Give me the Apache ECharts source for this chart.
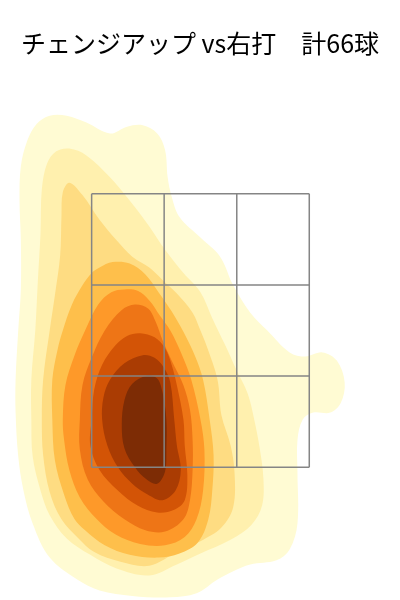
<!DOCTYPE html>
<html><head><meta charset="utf-8">
<script src="https://cdn.jsdelivr.net/npm/echarts@6/dist/echarts.min.js"></script>
<style>html,body{margin:0;padding:0;background:#fff}#c{width:400px;height:600px}</style>
</head><body><div id="c"></div>
<script>
// Title
const titleText = 'チェンジアップ vs右打\u3000計66球';

// Density contour bands (outer → inner), pitch location in feet [plate x, height]
const levelColors = ['#fffbd3','#fff0ae','#fedc82','#febf4b','#fe9929','#ee7516','#d35406','#aa3c03','#7d2c05'];

const level1 = [[-1.15,4.07],[-1.02,4.07],[-0.87,4.02],[-0.69,3.94],[-0.56,3.99],[-0.44,4.00],[-0.33,3.94],[-0.27,3.82],[-0.25,3.62],[-0.22,3.48],[-0.16,3.33],[0.00,3.18],[0.15,3.04],[0.25,2.83],[0.38,2.63],[0.51,2.50],[0.68,2.34],[0.80,2.31],[0.93,2.34],[1.04,2.28],[1.10,2.12],[1.07,1.97],[0.99,1.90],[0.86,1.90],[0.78,1.85],[0.74,1.70],[0.74,1.46],[0.74,1.09],[0.68,0.90],[0.58,0.82],[0.38,0.79],[0.25,0.74],[0.13,0.68],[-0.03,0.58],[-0.23,0.55],[-0.52,0.56],[-0.77,0.60],[-0.94,0.68],[-1.15,0.84],[-1.28,1.09],[-1.35,1.33],[-1.39,1.58],[-1.41,1.90],[-1.41,2.14],[-1.39,2.50],[-1.37,2.80],[-1.37,3.16],[-1.38,3.45],[-1.37,3.70],[-1.32,3.89],[-1.25,4.01]];
const level2 = [[-1.00,3.83],[-0.87,3.78],[-0.69,3.62],[-0.54,3.45],[-0.39,3.26],[-0.27,3.09],[-0.13,2.92],[0.00,2.78],[0.09,2.59],[0.19,2.39],[0.28,2.20],[0.36,2.04],[0.41,1.85],[0.45,1.65],[0.48,1.42],[0.47,1.22],[0.39,1.08],[0.23,0.97],[0.00,0.87],[-0.18,0.79],[-0.39,0.71],[-0.64,0.76],[-0.84,0.86],[-1.02,0.98],[-1.15,1.15],[-1.22,1.33],[-1.28,1.58],[-1.29,1.85],[-1.29,2.14],[-1.26,2.50],[-1.24,2.87],[-1.22,3.21],[-1.21,3.53],[-1.17,3.72],[-1.10,3.81]];
const level3 = [[-1.00,3.58],[-0.90,3.49],[-0.77,3.31],[-0.64,3.16],[-0.52,3.04],[-0.39,2.96],[-0.29,2.87],[-0.18,2.77],[-0.06,2.63],[0.00,2.50],[0.05,2.38],[0.13,2.14],[0.16,1.88],[0.23,1.66],[0.26,1.46],[0.25,1.21],[0.16,1.06],[0.00,0.96],[-0.18,0.88],[-0.39,0.78],[-0.61,0.81],[-0.81,0.88],[-0.93,0.98],[-1.06,1.12],[-1.15,1.32],[-1.20,1.59],[-1.21,1.85],[-1.20,2.14],[-1.15,2.50],[-1.11,2.76],[-1.07,3.05],[-1.06,3.34],[-1.05,3.51]];
const level4 = [[-0.77,2.96],[-0.67,3.00],[-0.54,2.99],[-0.42,2.91],[-0.32,2.78],[-0.22,2.64],[-0.13,2.49],[-0.04,2.31],[0.02,2.14],[0.07,1.85],[0.10,1.59],[0.09,1.33],[0.06,1.12],[-0.02,0.95],[-0.16,0.87],[-0.32,0.84],[-0.54,0.86],[-0.73,0.93],[-0.88,1.04],[-0.96,1.12],[-1.04,1.30],[-1.11,1.55],[-1.13,1.85],[-1.13,2.14],[-1.09,2.36],[-1.05,2.50],[-0.98,2.69],[-0.90,2.83],[-0.83,2.92]];
const level5 = [[-0.68,2.78],[-0.58,2.80],[-0.48,2.79],[-0.39,2.72],[-0.31,2.61],[-0.23,2.50],[-0.14,2.32],[-0.07,2.14],[0.00,1.85],[0.03,1.63],[0.02,1.33],[-0.03,1.12],[-0.12,0.99],[-0.27,0.93],[-0.46,0.94],[-0.65,1.01],[-0.79,1.12],[-0.92,1.28],[-1.00,1.48],[-1.04,1.70],[-1.05,1.85],[-1.03,2.10],[-0.96,2.32],[-0.88,2.50],[-0.78,2.69]];
const level6 = [[-0.60,2.65],[-0.50,2.69],[-0.40,2.66],[-0.34,2.56],[-0.29,2.43],[-0.22,2.28],[-0.13,2.10],[-0.08,1.92],[-0.06,1.70],[-0.06,1.48],[-0.08,1.26],[-0.13,1.12],[-0.27,1.03],[-0.42,1.04],[-0.58,1.12],[-0.74,1.25],[-0.86,1.41],[-0.92,1.63],[-0.92,1.85],[-0.90,2.10],[-0.83,2.30],[-0.73,2.50]];
const level7 = [[-0.46,2.48],[-0.35,2.45],[-0.27,2.37],[-0.22,2.25],[-0.18,2.10],[-0.13,1.85],[-0.12,1.66],[-0.10,1.44],[-0.12,1.26],[-0.20,1.19],[-0.33,1.17],[-0.48,1.22],[-0.63,1.33],[-0.77,1.48],[-0.84,1.66],[-0.83,1.85],[-0.81,2.07],[-0.75,2.25],[-0.65,2.39],[-0.56,2.46]];
const level8 = [[-0.44,2.32],[-0.35,2.30],[-0.28,2.23],[-0.23,2.12],[-0.20,1.85],[-0.18,1.66],[-0.15,1.48],[-0.19,1.33],[-0.29,1.26],[-0.40,1.30],[-0.52,1.38],[-0.63,1.50],[-0.71,1.66],[-0.75,1.85],[-0.74,2.01],[-0.69,2.14],[-0.58,2.26]];
const level9 = [[-0.41,2.17],[-0.33,2.15],[-0.29,2.05],[-0.26,1.85],[-0.26,1.63],[-0.27,1.47],[-0.33,1.38],[-0.41,1.41],[-0.50,1.50],[-0.58,1.64],[-0.60,1.81],[-0.58,1.99],[-0.52,2.11]];

// Strike zone (feet)
const zoneX = [-0.83, -0.277, 0.277, 0.83];
const zoneY = [1.5, 2.167, 2.833, 3.5];

// Visible plot range (feet)
const xRange = [-1.529, 1.522];
const yRange = [0.530, 4.916];

const levels = [level1, level2, level3, level4, level5, level6, level7, level8, level9];
const zoneSegments = [];
zoneX.forEach(x => zoneSegments.push([x, zoneY[0], x, zoneY[zoneY.length - 1]]));
zoneY.forEach(y => zoneSegments.push([zoneX[0], y, zoneX[zoneX.length - 1], y]));

const chart = echarts.init(document.getElementById('c'), null, {renderer: 'canvas'});
chart.setOption({
  animation: false,
  backgroundColor: '#ffffff',
  title: {
    text: titleText, left: 'center', top: 26,
    textStyle: {fontSize: 25, fontWeight: 'normal', color: '#000', fontFamily: '"Noto Sans CJK JP", "Noto Sans", sans-serif'}
  },
  grid: {left: 0, right: 0, top: 0, bottom: 0},
  xAxis: {type: 'value', min: xRange[0], max: xRange[1], show: false},
  yAxis: {type: 'value', min: yRange[0], max: yRange[1], show: false},
  series: [
    {
      type: 'custom', silent: true, clip: false,
      data: levels.map(() => [0, 2]),
      renderItem: (params, api) => {
        const i = params.dataIndex;
        return {
          type: 'polygon',
          shape: {points: levels[i].map(p => api.coord(p)), smooth: 0.35},
          style: {fill: levelColors[i], stroke: null}
        };
      }
    },
    {
      type: 'custom', silent: true, clip: false, z: 5,
      data: zoneSegments,
      renderItem: (params, api) => {
        const a = api.coord([api.value(0), api.value(1)]);
        const b = api.coord([api.value(2), api.value(3)]);
        return {
          type: 'line',
          shape: {x1: a[0], y1: a[1], x2: b[0], y2: b[1]},
          style: {stroke: '#858585', lineWidth: 1.5}
        };
      }
    }
  ]
});
</script>
</body></html>
